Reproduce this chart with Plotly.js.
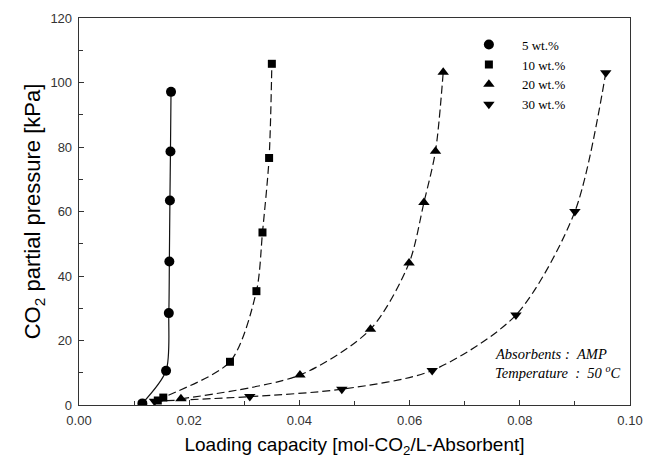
<!DOCTYPE html>
<html>
<head>
<meta charset="utf-8">
<script src="https://cdn.plot.ly/plotly-3.0.1.min.js"></script>
<style>html,body{margin:0;padding:0;background:#fff;}#chart{width:645px;height:463px;}</style>
</head>
<body>
<div id="chart"></div>
<script>
// Series names
const seriesNames = ["5 wt.%", "10 wt.%", "20 wt.%", "30 wt.%"];

// Loading capacity [mol-CO2/L-Absorbent]
const x5  = [0.0115, 0.0158, 0.0163, 0.0164, 0.0165, 0.0166, 0.0167];
const x10 = [0.0143, 0.0153, 0.0274, 0.0322, 0.0333, 0.0345, 0.0350];
const x20 = [0.0185, 0.0401, 0.0529, 0.0599, 0.0626, 0.0647, 0.0661];
const x30 = [0.0137, 0.0310, 0.0477, 0.0641, 0.0793, 0.0900, 0.0956];

// CO2 partial pressure [kPa]
const y5  = [0.5, 10.6, 28.5, 44.5, 63.4, 78.6, 97.1];
const y10 = [1.4, 2.3, 13.4, 35.3, 53.5, 76.6, 105.8];
const y20 = [1.9, 9.3, 23.5, 44.0, 62.8, 78.7, 103.2];
const y30 = [1.2, 2.6, 4.9, 10.7, 27.9, 60.0, 103.0];

const xs = [x5, x10, x20, x30];
const ys = [y5, y10, y20, y30];
const symbols = ["circle", "square", "triangle-up", "triangle-down"];
const sizes = [10, 8, 10, 10];
const dashes = ["solid", "8px,4px", "8px,4px", "8px,4px"];

const traces = [];
for (let i = 0; i < 4; i++) {
  traces.push({
    x: xs[i], y: ys[i], mode: "lines", type: "scatter", showlegend: false,
    hoverinfo: "skip",
    line: {color: "#111", width: 1.2, dash: dashes[i], shape: "spline", smoothing: 0.8}
  });
}
for (let i = 0; i < 4; i++) {
  traces.push({
    x: xs[i], y: ys[i], mode: "markers", type: "scatter", name: seriesNames[i],
    marker: {symbol: symbols[i], size: sizes[i], color: "#000"}
  });
}

const axisFont = {family: "Liberation Sans, Arial, sans-serif", size: 13, color: "#333"};
const serif = "Liberation Serif, Times New Roman, serif";

const layout = {
  width: 645, height: 463,
  margin: {l: 79, r: 15, t: 18, b: 58, pad: 0},
  paper_bgcolor: "#fff", plot_bgcolor: "#fff",
  showlegend: true,
  legend: {
    x: 0.684, y: 0.970, xanchor: "left", yanchor: "top",
    bgcolor: "rgba(0,0,0,0)", borderwidth: 0, itemwidth: 56,
    font: {family: serif, size: 13, color: "#000"}
  },
  xaxis: {
    range: [0, 0.1], dtick: 0.02, tick0: 0, tickformat: ".2f",
    ticks: "inside", ticklen: 5, tickwidth: 1, tickcolor: "#333",
    minor: {dtick: 0.01, ticks: "inside", ticklen: 4, tickcolor: "#333"},
    showline: true, linewidth: 1.3, linecolor: "#333", mirror: true,
    showgrid: false, zeroline: false,
    tickfont: axisFont, ticklabelstandoff: 3,
    title: {text: "Loading capacity [mol-CO<sub>2</sub>/L-Absorbent]",
            font: {family: "Liberation Sans, Arial, sans-serif", size: 19, color: "#000"}, standoff: 10}
  },
  yaxis: {
    range: [0, 120], dtick: 20, tick0: 0,
    ticks: "inside", ticklen: 5, tickwidth: 1, tickcolor: "#333",
    minor: {dtick: 10, ticks: "inside", ticklen: 4, tickcolor: "#333"},
    showline: true, linewidth: 1.3, linecolor: "#333", mirror: true,
    showgrid: false, zeroline: false,
    tickfont: axisFont, ticklabelstandoff: 3,
    title: {text: "CO<sub>2</sub> partial pressure [kPa]",
            font: {family: "Liberation Sans, Arial, sans-serif", size: 22, color: "#000"}, standoff: 3}
  },
  annotations: [
    {xref: "paper", yref: "paper", x: 0.751, y: 0.132, xanchor: "left", yanchor: "middle", showarrow: false,
     text: "<i>Absorbents\u00a0:\u00a0\u00a0AMP</i>",
     font: {family: serif, size: 14.5, color: "#000"}},
    {xref: "paper", yref: "paper", x: 0.751, y: 0.085, xanchor: "left", yanchor: "middle", showarrow: false,
     text: "<i>Temperature\u00a0\u00a0:\u00a0\u00a050\u00a0<sup>o</sup>C</i>",
     font: {family: serif, size: 14.5, color: "#000"}}
  ]
};

Plotly.newPlot("chart", traces, layout, {displayModeBar: false, staticPlot: true});
</script>
</body>
</html>
